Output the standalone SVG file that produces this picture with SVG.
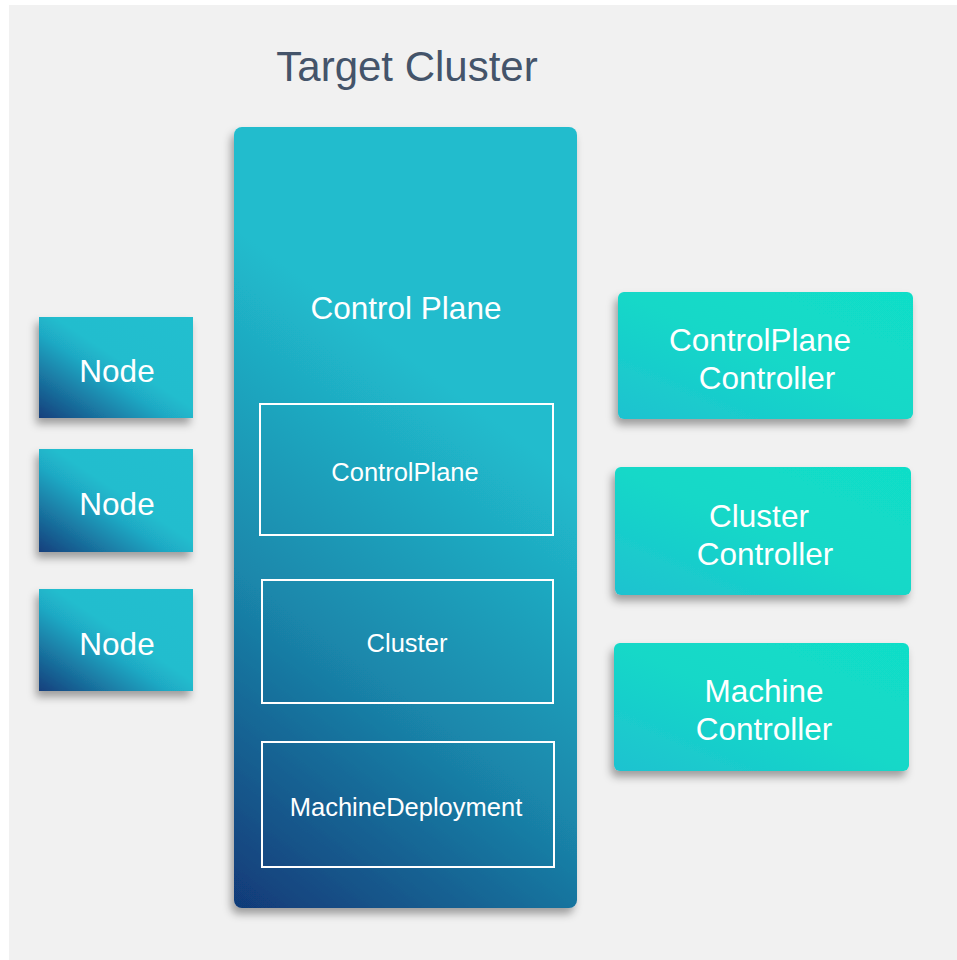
<svg xmlns="http://www.w3.org/2000/svg" width="957" height="960" viewBox="0 0 957 960">
<style>
.t{font-family:"Liberation Sans",Arial,sans-serif;fill:#ffffff;text-anchor:middle}
.big{font-size:31.5px}
.mid{font-size:25.5px}
.inner{fill:none;stroke:#ffffff;stroke-width:2}
</style>
<defs>
<filter id="sh" x="-20%" y="-20%" width="140%" height="140%">
<feDropShadow dx="-3" dy="6" stdDeviation="4" flood-color="#000" flood-opacity="0.35"/>
</filter>
<linearGradient id="gcp" gradientUnits="userSpaceOnUse" x1="234" y1="908" x2="560" y2="470">
<stop offset="0" stop-color="#113a78"/>
<stop offset="0.5" stop-color="#1a87ab"/>
<stop offset="1" stop-color="#21bccd"/>
</linearGradient>
<linearGradient id="gn" x1="0" y1="1" x2="1" y2="0">
<stop offset="0" stop-color="#143f7c"/>
<stop offset="0.42" stop-color="#1fa9c4"/>
<stop offset="0.55" stop-color="#21bdce"/>
<stop offset="1" stop-color="#21bfcf"/>
</linearGradient>
<linearGradient id="gc" x1="0" y1="1" x2="1" y2="0">
<stop offset="0" stop-color="#1fc2d0"/>
<stop offset="0.5" stop-color="#13d8c8"/>
<stop offset="1" stop-color="#11dec8"/>
</linearGradient>
</defs>
<rect x="9" y="5" width="948" height="955" fill="#f1f1f1"/>
<text x="407" y="81" style="font-family:'Liberation Sans',Arial,sans-serif;font-size:42px;fill:#44546a;text-anchor:middle">Target Cluster</text>
<g id="control-plane">
<rect x="234" y="127" width="343" height="781" rx="8" fill="url(#gcp)" filter="url(#sh)"/>
<text class="t big" x="406" y="319">Control Plane</text>
</g>
<g id="controlplane-res">
<rect class="inner" x="260" y="404" width="293" height="131"/>
<text class="t mid" x="405" y="481">ControlPlane</text>
</g>
<g id="cluster-res">
<rect class="inner" x="262" y="580" width="291" height="123"/>
<text class="t mid" x="407" y="652">Cluster</text>
</g>
<g id="machinedeployment-res">
<rect class="inner" x="262" y="742" width="292" height="125"/>
<text class="t mid" x="406" y="816">MachineDeployment</text>
</g>
<g id="node1">
<rect x="39" y="317" width="154" height="101" fill="url(#gn)" filter="url(#sh)"/>
<text class="t big" x="117" y="382">Node</text>
</g>
<g id="node2">
<rect x="39" y="449" width="154" height="103" fill="url(#gn)" filter="url(#sh)"/>
<text class="t big" x="117" y="515">Node</text>
</g>
<g id="node3">
<rect x="39" y="589" width="154" height="102" fill="url(#gn)" filter="url(#sh)"/>
<text class="t big" x="117" y="655">Node</text>
</g>
<g id="controlplane-controller">
<rect x="618" y="292" width="295" height="127" rx="6" fill="url(#gc)" filter="url(#sh)"/>
<text class="t big" x="760" y="351">ControlPlane</text>
<text class="t big" x="767" y="389">Controller</text>
</g>
<g id="cluster-controller">
<rect x="615" y="467" width="296" height="128" rx="6" fill="url(#gc)" filter="url(#sh)"/>
<text class="t big" x="759" y="527">Cluster</text>
<text class="t big" x="765" y="565">Controller</text>
</g>
<g id="machine-controller">
<rect x="614" y="643" width="295" height="128" rx="6" fill="url(#gc)" filter="url(#sh)"/>
<text class="t big" x="764" y="702">Machine</text>
<text class="t big" x="764" y="740">Controller</text>
</g>
<g id="connectors"/>
</svg>
